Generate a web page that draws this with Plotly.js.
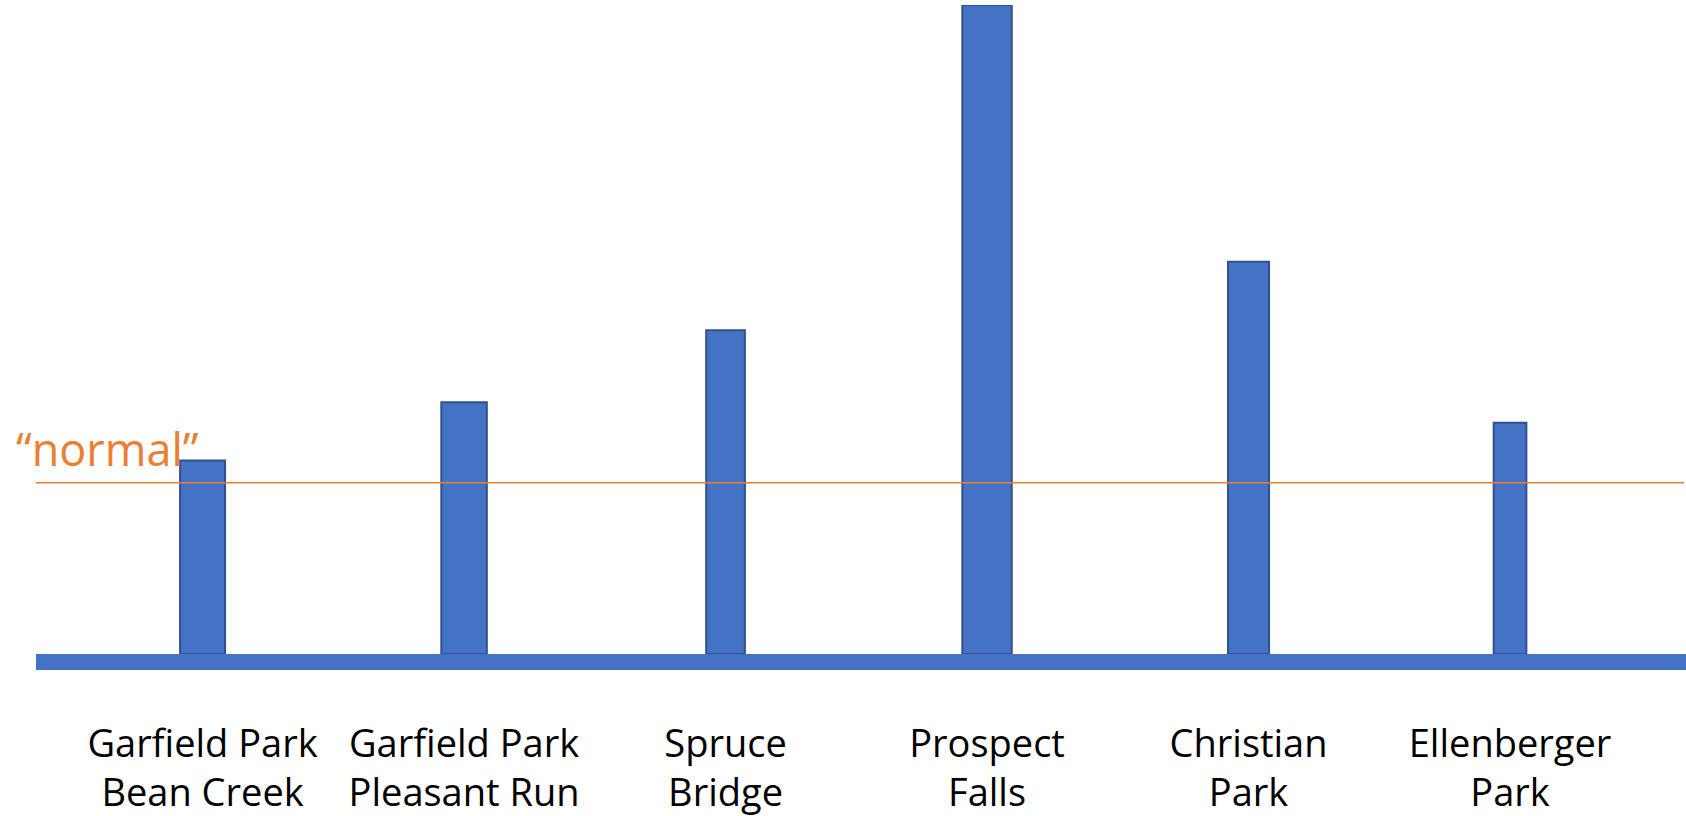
<!DOCTYPE html>
<html>
<head>
<meta charset="utf-8">
<script src="https://cdn.plot.ly/plotly-3.0.1.min.js"></script>
<style>
  html, body { margin: 0; padding: 0; background: #ffffff; }
  #chart { width: 1686px; height: 816px; }
</style>
</head>
<body>
<div id="chart"></div>
<script>
// ---- data ----
const categories = [
  "Garfield Park<br>Bean Creek",
  "Garfield Park<br>Pleasant Run",
  "Spruce<br>Bridge",
  "Prospect<br>Falls",
  "Christian<br>Park",
  "Ellenberger<br>Park"
];
const values = [1.13, 1.47, 1.89, 3.79, 2.29, 1.35];
const normalLevel = 1;
const normalLabel = "\u201Cnormal\u201D";

// ---- styles ----
const barColor = "#4472C4";
const barEdge = "#2F528F";
const normalColor = "#ED7D31";
const barWidths = [0.172, 0.174, 0.148, 0.189, 0.157, 0.125];

const trace = {
  type: "bar",
  x: categories,
  y: values,
  width: barWidths,
  marker: { color: barColor, line: { color: barEdge, width: 2 } },
  hoverinfo: "skip"
};

const layout = {
  width: 1686,
  height: 816,
  margin: { l: 36, r: 0, t: 5, b: 162 },
  paper_bgcolor: "#ffffff",
  plot_bgcolor: "#ffffff",
  showlegend: false,
  font: { family: "Open Sans, sans-serif", color: "#000000" },
  xaxis: {
    type: "category",
    range: [-0.637, 5.673],
    showgrid: false,
    zeroline: false,
    showline: false,
    ticks: "",
    tickfont: { family: "Open Sans, sans-serif", size: 38, color: "#000000" },
    ticklabelstandoff: 64
  },
  yaxis: {
    range: [0, 3.79],
    visible: false,
    showgrid: false,
    zeroline: false
  },
  shapes: [
    {
      type: "rect", xref: "paper", yref: "paper",
      x0: 0, x1: 1, y0: -16 / 649, y1: 0,
      fillcolor: barColor, line: { width: 0 }, layer: "above"
    },
    {
      type: "line", xref: "paper", yref: "y",
      x0: 0, x1: 0.9988, y0: normalLevel, y1: normalLevel,
      line: { color: normalColor, width: 1.3 }, layer: "above"
    }
  ],
  annotations: [
    {
      text: normalLabel,
      xref: "paper", yref: "y",
      x: -22 / 1650, y: normalLevel,
      xanchor: "left", yanchor: "bottom",
      showarrow: false,
      yshift: 2,
      font: { family: "Open Sans, sans-serif", size: 45, color: normalColor }
    }
  ]
};

Plotly.newPlot("chart", [trace], layout, { displayModeBar: false, staticPlot: true });
</script>
</body>
</html>
